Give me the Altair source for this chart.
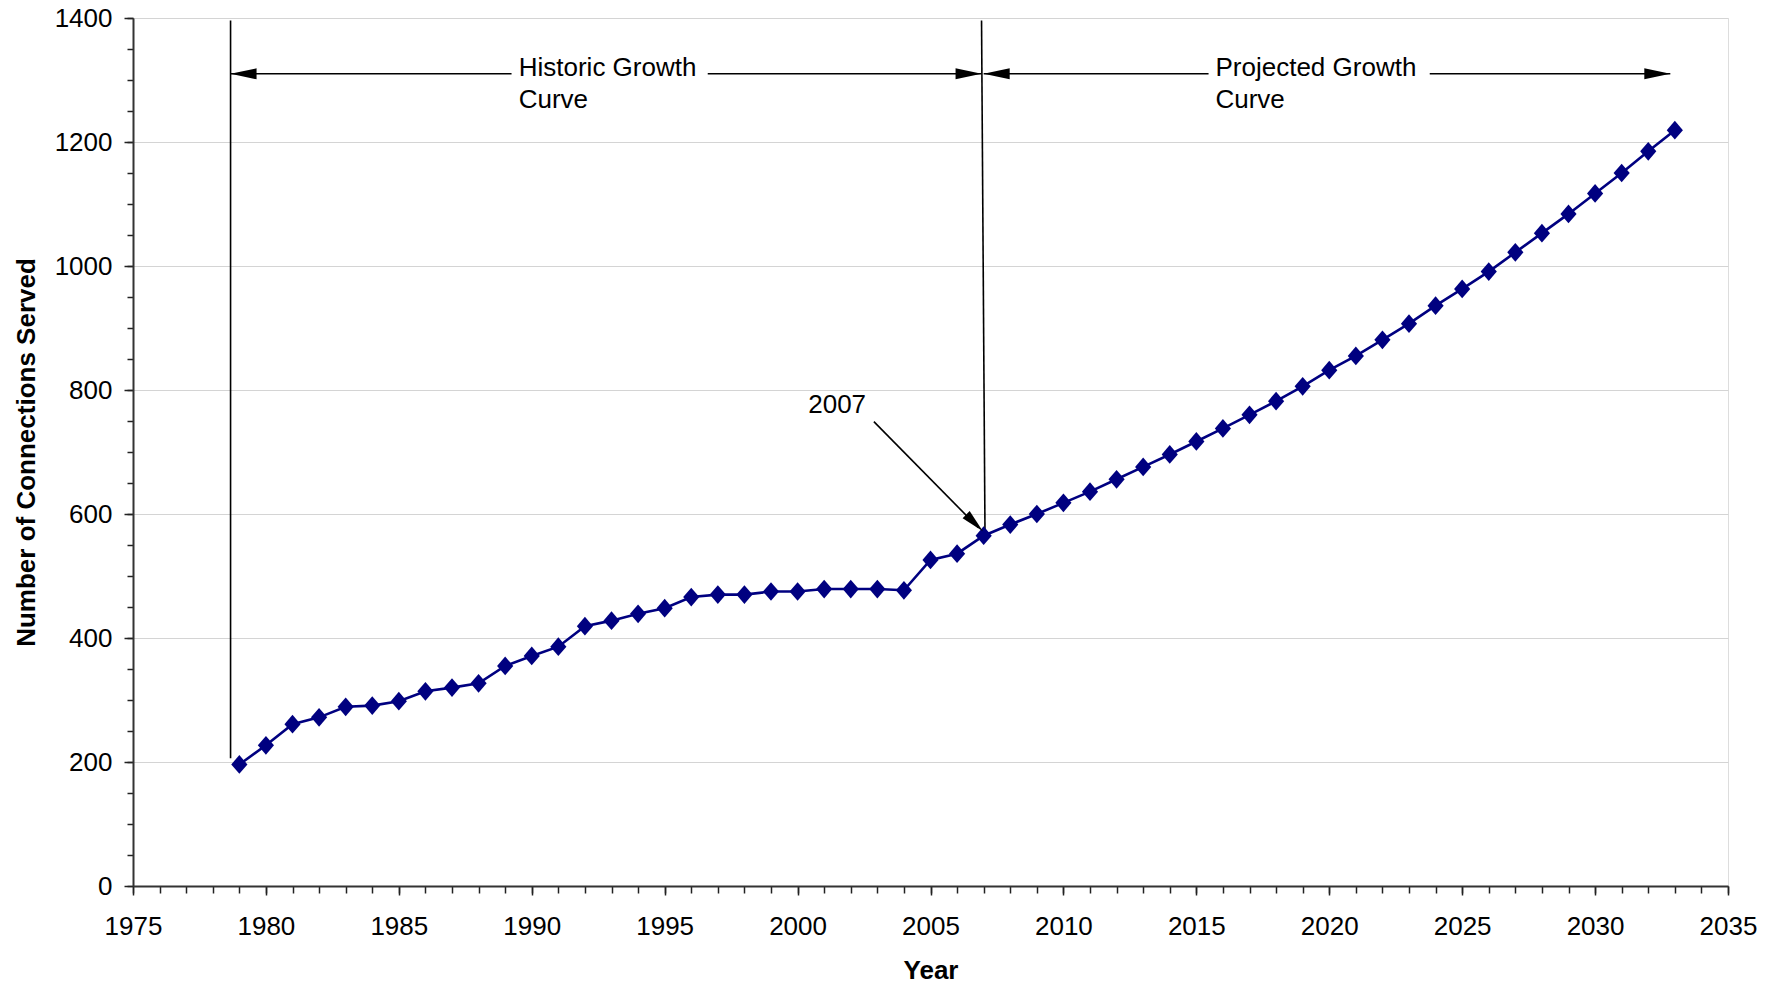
import altair as alt
import pandas as pd

# ---- data ----
years = list(range(1979, 2034))
connections = [196, 227, 261, 272, 289, 291, 298, 314, 320, 327,
               355, 371, 386, 419, 428, 439, 448, 466, 470, 470,
               475, 475, 479, 479, 479, 477, 526, 536, 565, 583,
               600, 618, 636, 656, 676, 696, 717, 738, 760, 782,
               806, 832, 855, 881, 907, 936, 963, 991, 1022, 1053,
               1084, 1117, 1150, 1185, 1219]

x_major_ticks = list(range(1975, 2036, 5))
x_minor_ticks = list(range(1975, 2036, 1))
y_major_ticks = list(range(0, 1401, 200))
y_minor_ticks = list(range(0, 1401, 50))

# annotation line segments (year / value space)
seg_x1 = [1978.67, 2006.92, 1978.67, 1996.62, 2007.00, 2023.78, 2002.87]
seg_x2 = [1978.67, 2007.05, 1989.24, 2006.92, 2015.46, 2032.83, 2006.80]
seg_y1 = [1396, 1396, 1310, 1310, 1310, 1310, 749]
seg_y2 = [206, 570, 1310, 1310, 1310, 1310, 578]

# arrow heads
head_x = [1978.67, 2006.92, 2007.00, 2032.83, 2006.97]
head_y = [1310, 1310, 1310, 1310, 572]
head_angle = [180, 0, 180, 0, 45]
head_size = [676, 676, 676, 676, 560]

# annotation texts
note_text = ["Historic Growth\nCurve", "Projected Growth\nCurve", "2007"]
note_x = [1989.51, 2015.72, 2000.40]
note_y = [1307, 1307, 763]

FONT = "Liberation Sans"
NAVY = "#000080"

df = pd.DataFrame({"year": years, "connections": connections})
seg = pd.DataFrame({"x1": seg_x1, "x2": seg_x2, "y1": seg_y1, "y2": seg_y2})
heads = pd.DataFrame({"hx": head_x, "hy": head_y, "angle": head_angle, "size": head_size})
notes = pd.DataFrame({"label": note_text, "nx": note_x, "ny": note_y})

xs = alt.Scale(domain=[1975, 2035], nice=False, zero=False)
ys = alt.Scale(domain=[0, 1400], nice=False)

W, H = 1595, 868

major_x = alt.Axis(orient="bottom", values=x_major_ticks, format="d", grid=False,
                   tickSize=9, tickWidth=1.5, tickColor="#222222",
                   domainColor="#333333", domainWidth=2,
                   labelFont=FONT, labelFontSize=26, labelColor="#000000",
                   labelPadding=18, labelFlush=False, labelOverlap=False,
                   title="Year", titleFont=FONT, titleFontSize=26,
                   titleFontWeight="bold", titleColor="#000000",
                   titleX=W / 2, titleY=92, titleBaseline="alphabetic",
                   titleAlign="center")
major_y = alt.Axis(orient="left", values=y_major_ticks, format="d", grid=True,
                   gridColor="#d4d4d4", gridWidth=1,
                   tickSize=9, tickWidth=1.5, tickColor="#222222",
                   domainColor="#333333", domainWidth=2,
                   labelFont=FONT, labelFontSize=26, labelColor="#000000",
                   labelPadding=12, labelFlush=False, labelOverlap=False,
                   title="Number of Connections Served", titleFont=FONT,
                   titleFontSize=26, titleFontWeight="bold", titleColor="#000000",
                   titleAngle=-90, titleX=-107, titleY=H / 2,
                   titleAlign="center", titleBaseline="middle")
minor_x = alt.Axis(orient="bottom", values=x_minor_ticks, labels=False, grid=False,
                   domain=False, tickSize=7, tickWidth=1.5, tickColor="#222222",
                   title=None)
minor_y = alt.Axis(orient="left", values=y_minor_ticks, labels=False, grid=False,
                   domain=False, tickSize=6, tickWidth=1.5, tickColor="#222222",
                   title=None)

minor = alt.Chart(df).mark_point(opacity=0).encode(
    x=alt.X("year:Q", scale=xs, axis=minor_x),
    y=alt.Y("connections:Q", scale=ys, axis=minor_y),
)

line = alt.Chart(df).mark_line(color=NAVY, strokeWidth=2.6).encode(
    x=alt.X("year:Q", scale=xs, axis=major_x),
    y=alt.Y("connections:Q", scale=ys, axis=major_y),
)

diamond = "M0,-1.1L0.95,0L0,1.1L-0.95,0Z"
points = alt.Chart(df).mark_point(shape=diamond, filled=True, size=290,
                                  color=NAVY, opacity=1, strokeWidth=0).encode(
    x=alt.X("year:Q", scale=xs, axis=None),
    y=alt.Y("connections:Q", scale=ys, axis=None),
)

rules = alt.Chart(seg).mark_rule(color="#000000", strokeWidth=1.6).encode(
    x=alt.X("x1:Q", scale=xs, axis=None),
    x2="x2:Q",
    y=alt.Y("y1:Q", scale=ys, axis=None),
    y2="y2:Q",
)

arrow_path = "M0,0L-2,-0.42L-2,0.42Z"
arrowheads = alt.Chart(heads).mark_point(shape=arrow_path, filled=True,
                                         color="#000000", opacity=1,
                                         strokeWidth=0).encode(
    x=alt.X("hx:Q", scale=xs, axis=None),
    y=alt.Y("hy:Q", scale=ys, axis=None),
    angle=alt.Angle("angle:Q", scale=None),
    size=alt.Size("size:Q", scale=None, legend=None),
)

texts = alt.Chart(notes).mark_text(align="left", baseline="alphabetic",
                                   font=FONT, fontSize=26, color="#000000",
                                   lineBreak="\n", lineHeight=32).encode(
    x=alt.X("nx:Q", scale=xs, axis=None),
    y=alt.Y("ny:Q", scale=ys, axis=None),
    text="label:N",
)

chart = alt.layer(minor, line, rules, points, arrowheads, texts).resolve_axis(
    x="independent", y="independent"
).properties(
    width=W, height=H,
    padding={"left": 133, "top": 18, "right": 50, "bottom": 99},
    autosize=alt.AutoSizeParams(type="none"),
    background="#ffffff",
).configure_view(
    stroke="#8c8c8c", strokeWidth=2
).configure(font=FONT)

chart.save("out.html", embed_options={"renderer": "svg", "actions": False})
